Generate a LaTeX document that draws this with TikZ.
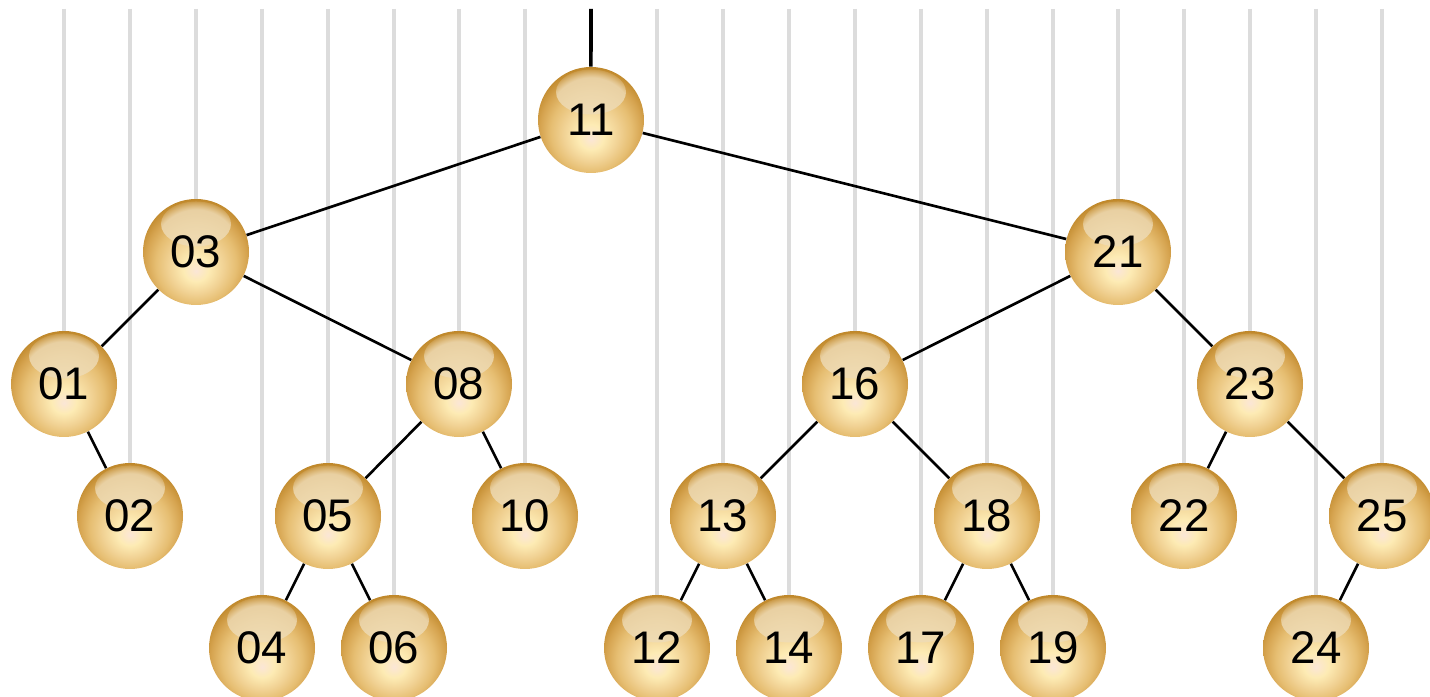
\documentclass[tikz,border=0pt]{standalone}
\usepackage{fontspec}
\setmainfont{Liberation Sans}
\usepackage{tikz}
\usepackage{xcolor}
\usetikzlibrary{positioning,shapes,fadings}

\definecolor{railgray}{HTML}{DCDCDC}
\definecolor{gold0}{HTML}{FBE6D6}
\definecolor{gold1}{HTML}{FDEBB4}
\definecolor{gold2}{HTML}{F1D294}
\definecolor{gold3}{HTML}{E6BE72}
\definecolor{gold4}{HTML}{D6A450}
\definecolor{gold5}{HTML}{BE8628}
\definecolor{goldcap}{HTML}{EEDCB8}
\pgfdeclareradialshading{goldball}{\pgfpoint{0bp}{-9bp}}{%
  color(0bp)=(gold0);
  color(6bp)=(gold1);
  color(13bp)=(gold2);
  color(19bp)=(gold3);
  color(24bp)=(gold4);
  color(29bp)=(gold5);
  color(50bp)=(gold5)}

\begin{document}
\begin{tikzpicture}[scale=0.2]
\tikzstyle{every node}+=[inner sep=0pt]
\tikzstyle{ball}=[circle, minimum size=2.12cm, shading=goldball,
  font=\fontsize{26}{26}\selectfont,
  path picture={\fill[goldcap, opacity=0.8, path fading=circle with fuzzy edge 20 percent]
    ([yshift=-0.5cm]path picture bounding box.north) ellipse (0.7cm and 0.45cm);}]
\tikzstyle{rail}=[railgray, line width=2pt]
\tikzstyle{link}=[black, line width=1.5pt]
\useasboundingbox (0,0) rectangle (143,-69.7);
\node [ball] (n01) at (6.4,-38.4) {01};
\node [ball] (n02) at (13.0,-51.6) {02};
\node [ball] (n03) at (19.6,-25.2) {03};
\node [ball] (n04) at (26.2,-64.8) {04};
\node [ball] (n05) at (32.8,-51.6) {05};
\node [ball] (n06) at (39.4,-64.8) {06};
\node [ball] (n08) at (45.9,-38.4) {08};
\node [ball] (n10) at (52.5,-51.6) {10};
\node [ball] (n11) at (59.1,-12.0) {11};
\node [ball] (n12) at (65.7,-64.8) {12};
\node [ball] (n13) at (72.3,-51.6) {13};
\node [ball] (n14) at (78.9,-64.8) {14};
\node [ball] (n16) at (85.5,-38.4) {16};
\node [ball] (n17) at (92.1,-64.8) {17};
\node [ball] (n18) at (98.7,-51.6) {18};
\node [ball] (n19) at (105.3,-64.8) {19};
\node [ball] (n21) at (111.8,-25.2) {21};
\node [ball] (n22) at (118.4,-51.6) {22};
\node [ball] (n23) at (125.0,-38.4) {23};
\node [ball] (n24) at (131.6,-64.8) {24};
\node [ball] (n25) at (138.2,-51.6) {25};
\foreach \k in {01,02,03,04,05,06,08,10,12,13,14,16,17,18,19,21,22,23,24,25}
  \draw [rail] (n\k.north |- 0,-0.9) -- (n\k.north);
\coordinate (top) at (59.1,-0.9);
\draw [link, line width=2pt] (top) -- (n11);
\foreach \a/\b in {11/03,11/21,03/01,03/08,01/02,08/05,08/10,05/04,05/06,
  21/16,21/23,16/13,16/18,13/12,13/14,18/17,18/19,23/22,23/25,25/24}
  \draw [link] (n\a) -- (n\b);
\end{tikzpicture}
\end{document}
